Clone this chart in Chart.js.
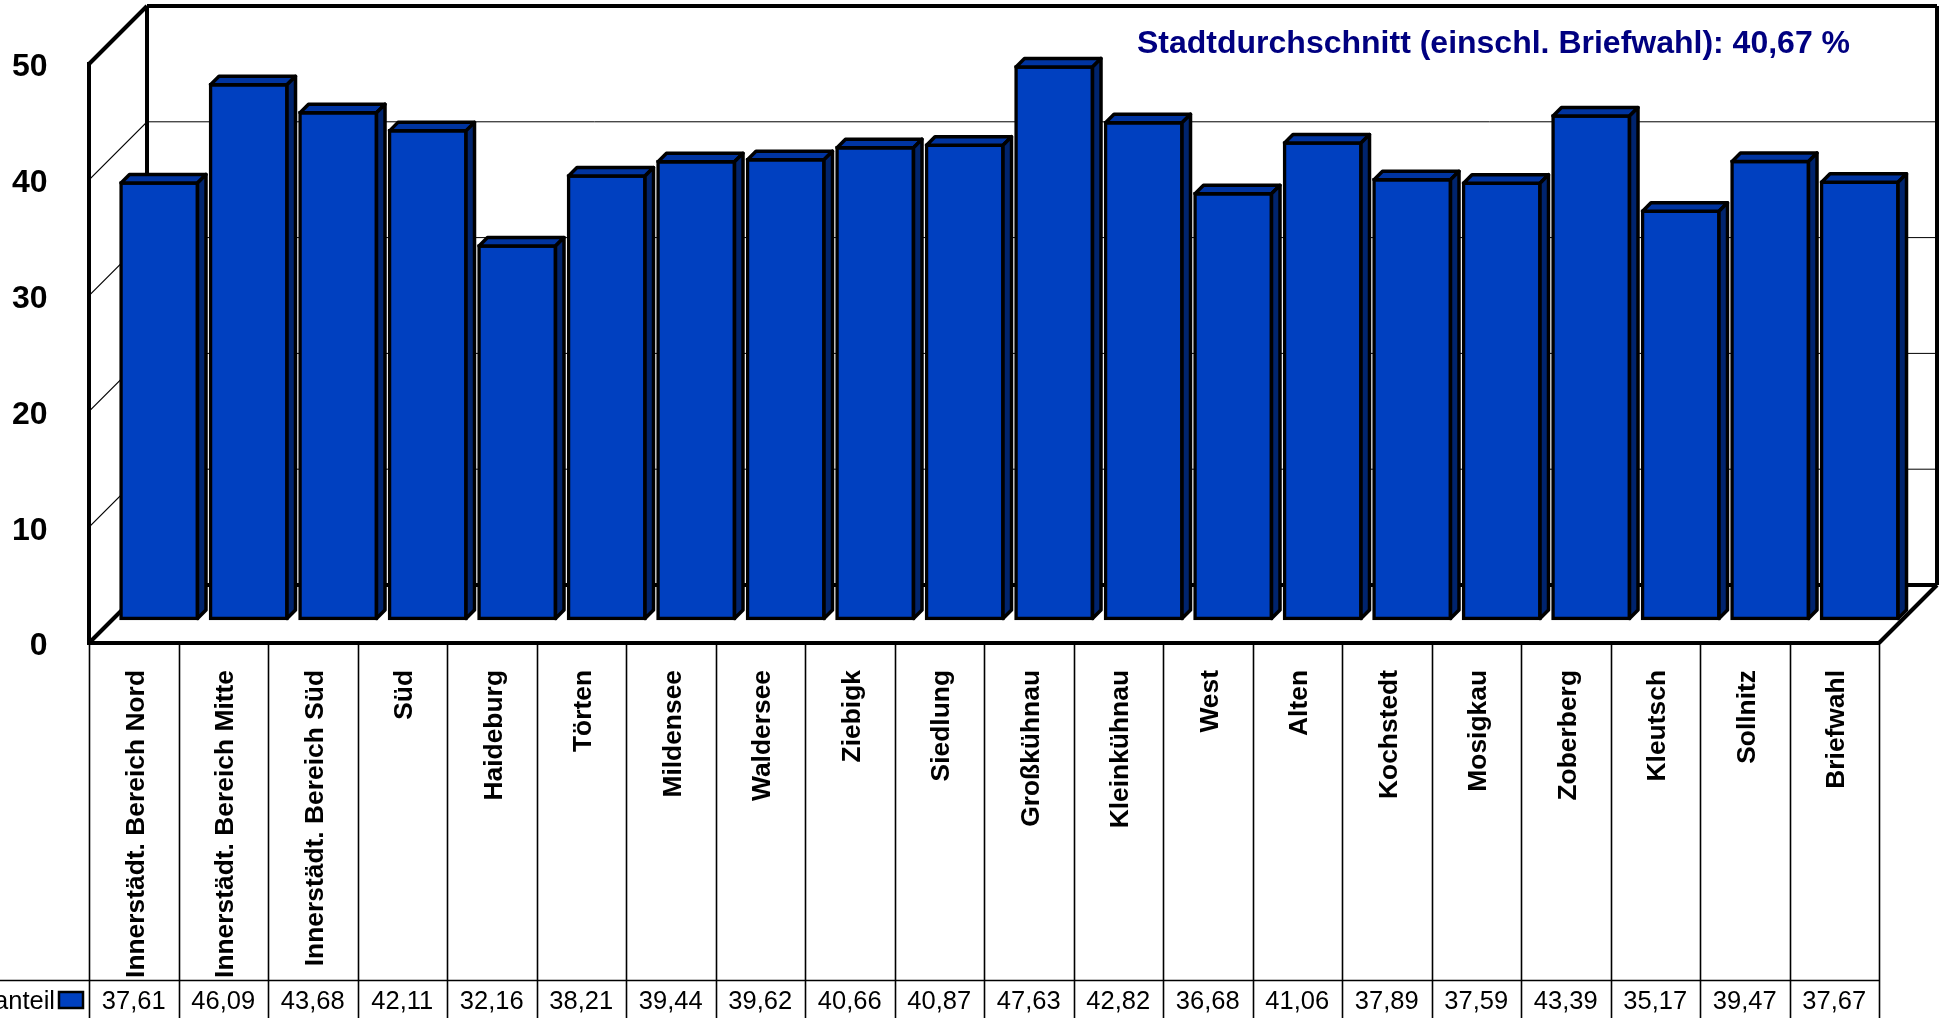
<!DOCTYPE html>
<html>
<head>
<meta charset="utf-8">
<title>Stadtdurchschnitt</title>
<script src="https://cdn.jsdelivr.net/npm/chart.js@4"></script>
<style>
  html, body { margin: 0; padding: 0; background: #fff; overflow: hidden; }
  canvas { display: block; }
</style>
</head>
<body>
<canvas id="myChart" width="1943" height="1018"></canvas>
<script>
const labels = ['Innerstädt. Bereich Nord', 'Innerstädt. Bereich Mitte', 'Innerstädt. Bereich Süd', 'Süd', 'Haideburg',
  'Törten', 'Mildensee', 'Waldersee', 'Ziebigk', 'Siedlung', 'Großkühnau', 'Kleinkühnau', 'West', 'Alten',
  'Kochstedt', 'Mosigkau', 'Zoberberg', 'Kleutsch', 'Sollnitz', 'Briefwahl'];
const values = [37.61, 46.09, 43.68, 42.11, 32.16, 38.21, 39.44, 39.62, 40.66, 40.87,
  47.63, 42.82, 36.68, 41.06, 37.89, 37.59, 43.39, 35.17, 39.47, 37.67];
const seriesName = 'anteil';
const note = 'Stadtdurchschnitt (einschl. Briefwahl): 40,67 %';

const font = '"Liberation Sans", Arial, sans-serif';
const black = '#000';
const blue = '#0040C0';
const blueTop = '#0034A0';
const blueSide = '#00246E';
const wallDepth = 58;      // shift of the back wall against the front plane
const barShiftX = 25.5;    // bars stand inside the box, not on its front edge
const barShiftY = 24.5;
const barDepth = 8.5;
const barLine = 3.5;
const tableLine = 980.5;

function line(ctx, x1, y1, x2, y2, width) {
  ctx.lineWidth = width;
  ctx.beginPath();
  ctx.moveTo(x1, y1);
  ctx.lineTo(x2, y2);
  ctx.stroke();
}

const box3d = {
  id: 'box3d',
  beforeDatasetsDraw(chart) {
    const ctx = chart.ctx;
    const { left, right, top, bottom } = chart.chartArea;
    const y = chart.scales.y;
    ctx.save();
    ctx.strokeStyle = black;
    // wall lines
    y.ticks.forEach(t => {
      const py = y.getPixelForValue(t.value);
      const edge = t.value === 0 || t.value === 50;
      line(ctx, left, py, left + wallDepth, py - wallDepth, edge ? 4 : 1.2);
      line(ctx, left + wallDepth, py - wallDepth, right + wallDepth, py - wallDepth, edge ? 4 : 1);
    });
    line(ctx, left + wallDepth, top - wallDepth, left + wallDepth, bottom - wallDepth, 4);
    line(ctx, right + wallDepth, top - wallDepth, right + wallDepth, bottom - wallDepth, 4);
    line(ctx, right, bottom, right + wallDepth, bottom - wallDepth, 4);
    ctx.restore();

    // everything the library draws for the bars moves back into the box
    ctx.save();
    ctx.translate(barShiftX, -barShiftY);
  },
  afterDatasetsDraw(chart) {
    const ctx = chart.ctx;
    const meta = chart.getDatasetMeta(0);
    ctx.lineWidth = barLine;
    ctx.strokeStyle = black;
    ctx.lineJoin = 'round';
    meta.data.forEach(bar => {
      const l = bar.x - bar.width / 2;
      const r = bar.x + bar.width / 2;
      // top face
      ctx.fillStyle = blueTop;
      ctx.beginPath();
      ctx.moveTo(l, bar.y);
      ctx.lineTo(l + barDepth, bar.y - barDepth);
      ctx.lineTo(r + barDepth, bar.y - barDepth);
      ctx.lineTo(r, bar.y);
      ctx.closePath();
      ctx.fill();
      ctx.stroke();
      // side face
      ctx.fillStyle = blueSide;
      ctx.beginPath();
      ctx.moveTo(r, bar.y);
      ctx.lineTo(r + barDepth, bar.y - barDepth);
      ctx.lineTo(r + barDepth, bar.base - barDepth);
      ctx.lineTo(r, bar.base);
      ctx.closePath();
      ctx.fill();
      ctx.stroke();
    });
    ctx.restore();
  },
  afterDraw(chart) {
    const ctx = chart.ctx;
    const { left, right, bottom } = chart.chartArea;
    const x = chart.scales.x;
    const step = (right - left) / labels.length;
    const h = chart.height;
    ctx.save();
    ctx.strokeStyle = black;
    // data table below the box
    for (let i = 0; i <= labels.length; i++) {
      const px = Math.round(left + i * step) + 0.5;
      line(ctx, px, bottom, px, h, 1.6);
    }
    line(ctx, 0, tableLine, right, tableLine, 1.6);
    ctx.fillStyle = black;
    ctx.font = '25.5px ' + font;
    ctx.textAlign = 'center';
    ctx.textBaseline = 'alphabetic';
    values.forEach((v, i) => {
      ctx.fillText(v.toFixed(2).replace('.', ','), x.getPixelForTick(i), 1009);
    });
    // legend key in the first cell
    ctx.textAlign = 'right';
    ctx.fillText(seriesName, 55, 1009);
    ctx.fillStyle = blue;
    ctx.fillRect(59, 992, 24, 16);
    ctx.lineWidth = 2.5;
    ctx.strokeRect(59, 992, 24, 16);
    // average note
    ctx.fillStyle = '#000080';
    ctx.font = 'bold 32px ' + font;
    ctx.textAlign = 'left';
    ctx.fillText(note, 1137, 53);
    ctx.restore();
  }
};

new Chart(document.getElementById('myChart').getContext('2d'), {
  type: 'bar',
  plugins: [box3d],
  data: {
    labels: labels,
    datasets: [{
      label: seriesName,
      data: values,
      backgroundColor: blue,
      borderColor: black,
      borderWidth: barLine,
      borderSkipped: false,
      inflateAmount: barLine / 2,
      barPercentage: 0.855,
      categoryPercentage: 1,
      clip: false
    }]
  },
  options: {
    responsive: false,
    animation: false,
    layout: { padding: { top: 64, right: 64 } },
    plugins: { legend: { display: false }, tooltip: { enabled: false } },
    scales: {
      x: {
        afterFit: s => { s.height = 375; },
        grid: { display: false },
        border: { color: black, width: 4 },
        ticks: {
          autoSkip: false, minRotation: 90, maxRotation: 90, padding: 19, labelOffset: 2.5,
          color: black, font: { family: font, size: 26.4, weight: 'bold' }
        }
      },
      y: {
        min: 0,
        max: 50,
        afterFit: s => { s.width = 89; },
        grid: { display: false },
        border: { color: black, width: 4 },
        ticks: {
          stepSize: 10, padding: 33.5, labelOffset: 3.5,
          color: black, font: { family: font, size: 32, weight: 'bold' }
        }
      }
    }
  }
});
</script>
</body>
</html>
